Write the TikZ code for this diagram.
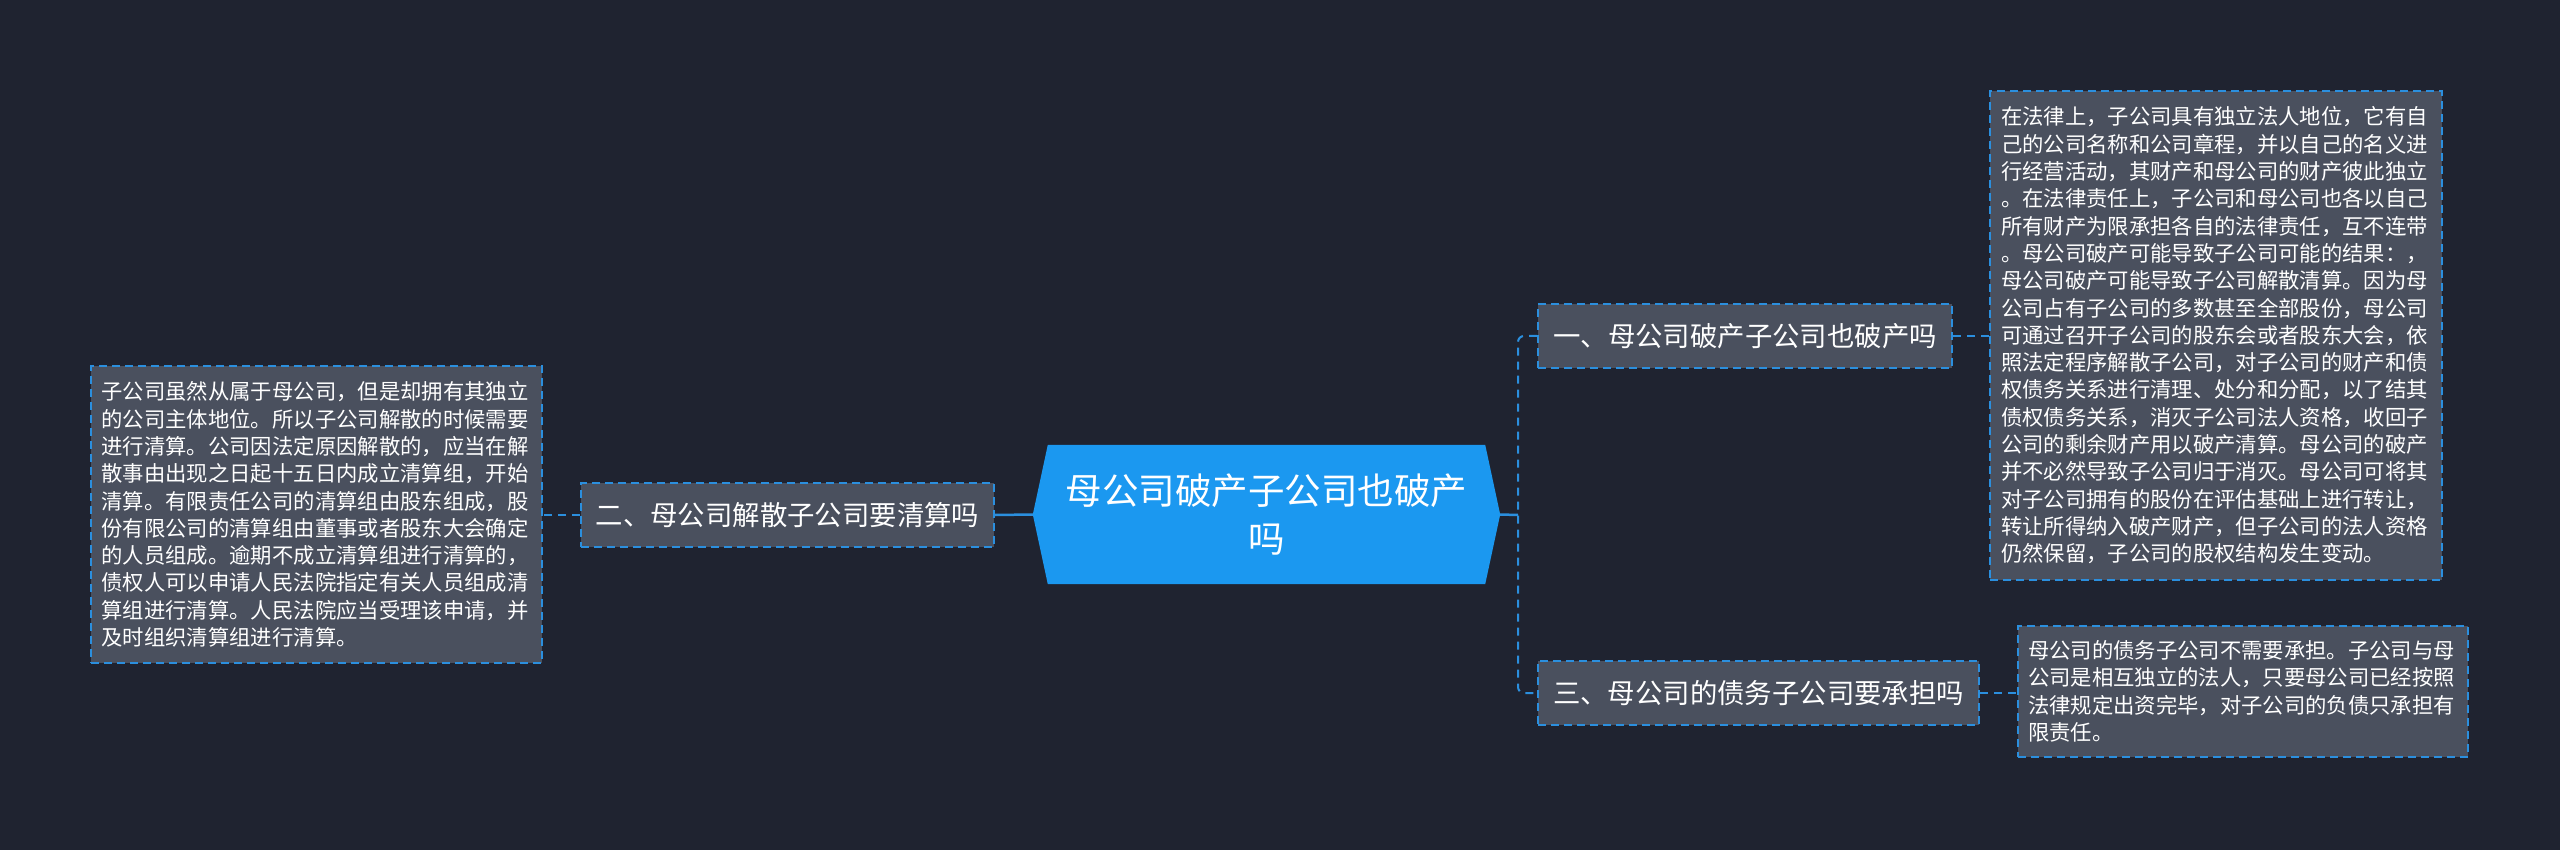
\documentclass[tikz,border=0pt]{standalone}
\usepackage{fontspec}
\setmainfont{Noto Sans CJK SC}
\definecolor{bgc}{HTML}{1F2330}
\definecolor{boxc}{HTML}{4A505E}
\definecolor{linec}{HTML}{2B8FDE}
\definecolor{centc}{HTML}{1B98F0}
\tikzset{
  dashbox/.style={draw=linec, fill=boxc, line width=2pt, dash pattern=on 8pt off 5pt, inner sep=0pt, text=white},
  leaftext/.style={dashbox, font=\fontsize{21.35}{27.3}\selectfont, align=left, text width=430pt},
  branchbox/.style={dashbox, font=\fontsize{27.4}{33}\selectfont, minimum height=64pt},
  conn/.style={draw=linec, line width=2pt, dash pattern=on 8pt off 6pt},
  solidconn/.style={draw=linec, line width=2.5pt}
}
\begin{document}
\begin{tikzpicture}[x=1pt,y=-1pt]
\fill[bgc] (0,0) rectangle (2560,850);
\useasboundingbox (0,0) rectangle (2560,850);

% center
\node[inner sep=0pt, minimum width=467pt, minimum height=139pt] (C) at (1266.5,514.5) {};
\fill[centc] ([xshift=15pt]C.north west) -- ([xshift=-15pt]C.north east) -- (C.east) -- ([xshift=-15pt]C.south east) -- ([xshift=15pt]C.south west) -- (C.west) -- cycle;
\node[text=white, font=\fontsize{36.5}{48}\selectfont, align=center] (CT) at (C) {母公司破产子公司也破产\\吗};

% branches
\node[branchbox, minimum width=413pt] (B2) at (787.5,515) {二、母公司解散子公司要清算吗};
\node[branchbox, minimum width=414pt] (B1) at (1745,336) {一、母公司破产子公司也破产吗};
\node[branchbox, minimum width=441pt] (B3) at (1758.5,693) {三、母公司的债务子公司要承担吗};

% leaves
\node[leaftext, minimum width=451pt, minimum height=297pt] (L) at (316.5,514.5) {子公司虽然从属于母公司，但是却拥有其独立\\的公司主体地位。所以子公司解散的时候需要\\进行清算。公司因法定原因解散的，应当在解\\散事由出现之日起十五日内成立清算组，开始\\清算。有限责任公司的清算组由股东组成，股\\份有限公司的清算组由董事或者股东大会确定\\的人员组成。逾期不成立清算组进行清算的，\\债权人可以申请人民法院指定有关人员组成清\\算组进行清算。人民法院应当受理该申请，并\\及时组织清算组进行清算。};

\node[leaftext, minimum width=452pt, minimum height=489pt] (R1) at (2216,335.5) {在法律上，子公司具有独立法人地位，它有自\\己的公司名称和公司章程，并以自己的名义进\\行经营活动，其财产和母公司的财产彼此独立\\。在法律责任上，子公司和母公司也各以自己\\所有财产为限承担各自的法律责任，互不连带\\。母公司破产可能导致子公司可能的结果：，\\母公司破产可能导致子公司解散清算。因为母\\公司占有子公司的多数甚至全部股份，母公司\\可通过召开子公司的股东会或者股东大会，依\\照法定程序解散子公司，对子公司的财产和债\\权债务关系进行清理、处分和分配，以了结其\\债权债务关系，消灭子公司法人资格，收回子\\公司的剩余财产用以破产清算。母公司的破产\\并不必然导致子公司归于消灭。母公司可将其\\对子公司拥有的股份在评估基础上进行转让，\\转让所得纳入破产财产，但子公司的法人资格\\仍然保留，子公司的股权结构发生变动。};

\node[leaftext, minimum width=450pt, minimum height=131pt] (R3) at (2243,691.5) {母公司的债务子公司不需要承担。子公司与母\\公司是相互独立的法人，只要母公司已经按照\\法律规定出资完毕，对子公司的负债只承担有\\限责任。};

% connectors
\coordinate (T) at (1518,515);
\draw[solidconn] (C.east) -- (T);
\draw[conn, rounded corners=6pt] (B1.west) -- (B1.west -| T) |- (B3.west);
\draw[solidconn] (C.west) -- (B2.east);
\draw[conn] (B2.west) -- (L.east |- B2.west);
\draw[conn] (B1.east) -- (R1.west |- B1.east);
\draw[conn] (B3.east) -- (R3.west |- B3.east);
\end{tikzpicture}
\end{document}
